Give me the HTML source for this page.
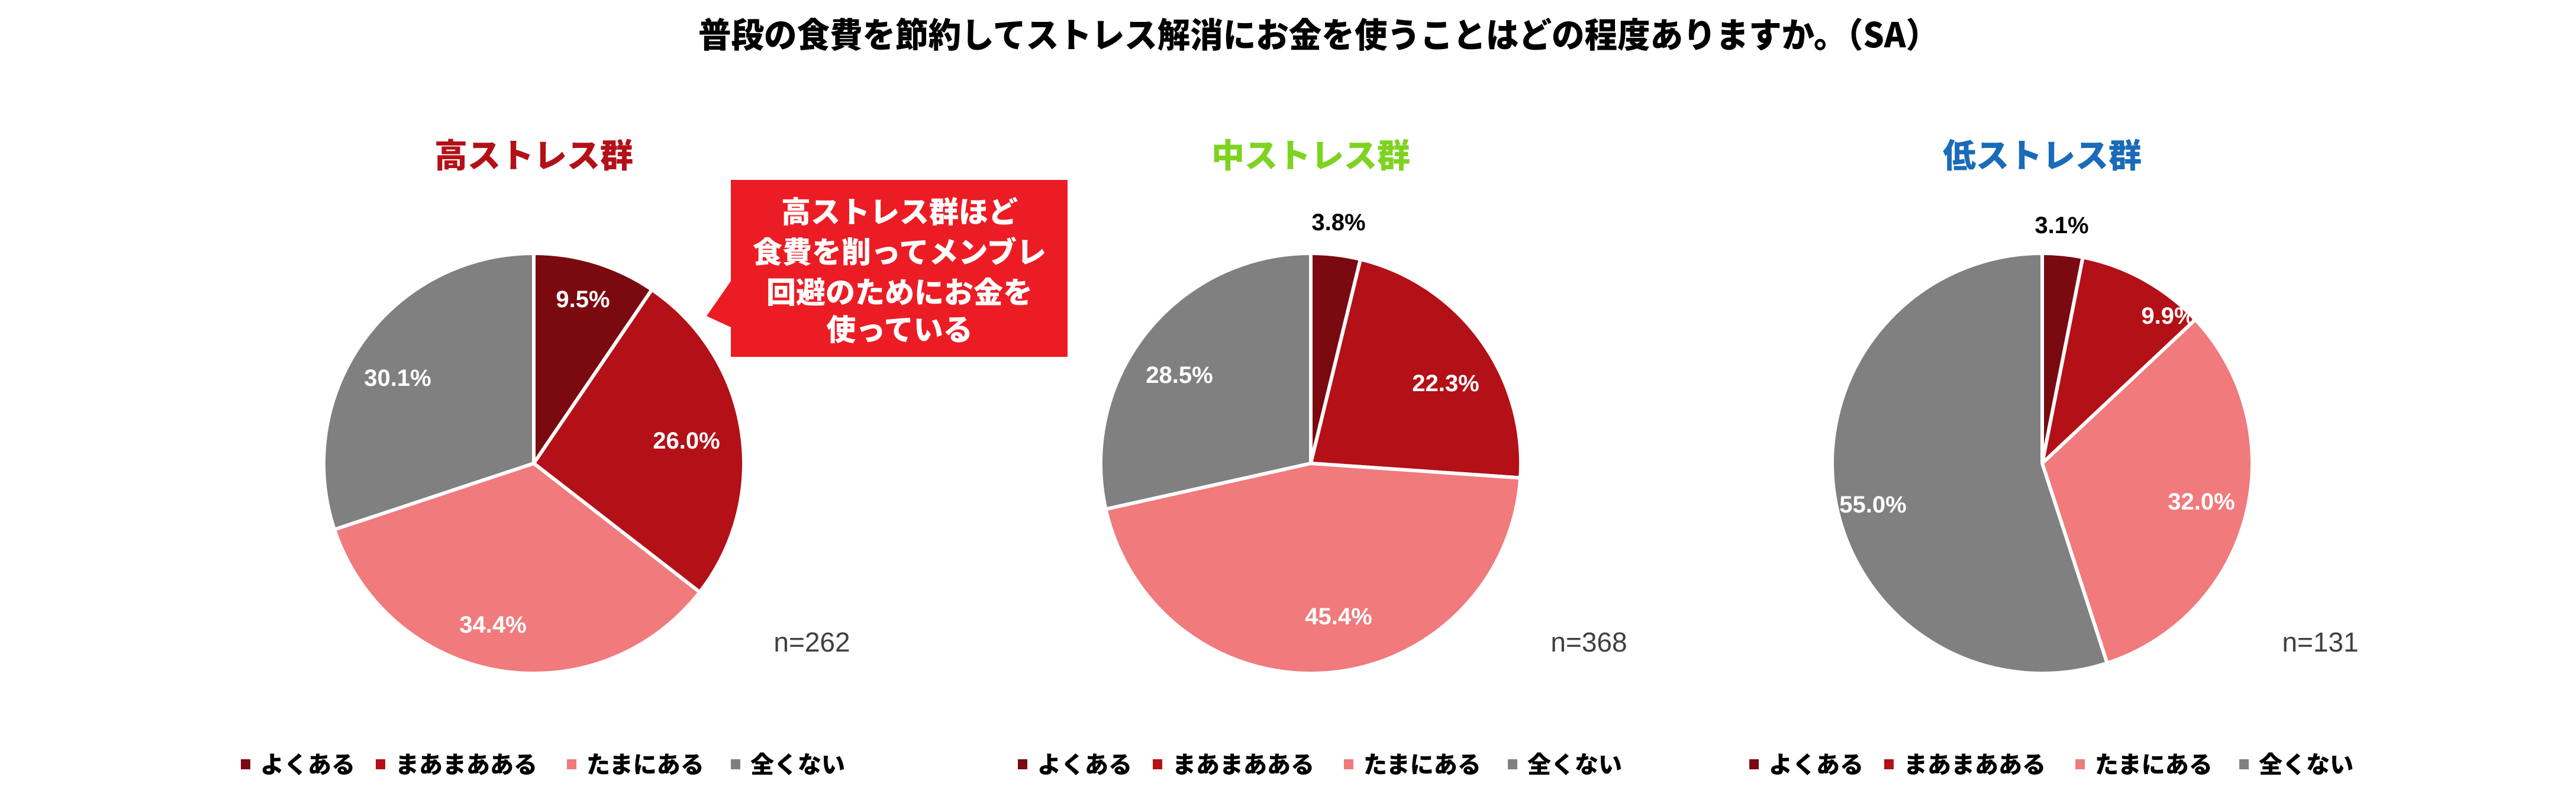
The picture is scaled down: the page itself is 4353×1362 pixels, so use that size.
<!DOCTYPE html>
<html><head><meta charset="utf-8"><style>
html,body{margin:0;padding:0;background:#fff;}
svg{display:block;}
text{font-family:"Liberation Sans","Noto Sans CJK JP",sans-serif;}
</style></head><body>
<svg id="s" width="4353" height="1362" viewBox="0 0 4353 1362" xmlns="http://www.w3.org/2000/svg">
<rect width="4353" height="1362" fill="#fff"/>
<text x="1180" y="80" textLength="2096" lengthAdjust="spacingAndGlyphs" font-size="58" font-weight="900" fill="#000" style="font-family:'Noto Sans CJK JP',sans-serif">普段の食費を節約してストレス解消にお金を使うことはどの程度ありますか。（SA）</text>
<g id="pies"></g>
<g style="font-family:'Noto Sans CJK JP',sans-serif" font-weight="900" font-size="56" text-anchor="middle">
<text x="902" y="283" fill="#b31017" style="font-family:'Noto Sans CJK JP',sans-serif">高ストレス群</text>
<text x="2215" y="283" fill="#7ed321" style="font-family:'Noto Sans CJK JP',sans-serif">中ストレス群</text>
<text x="3451" y="283" fill="#1a6bb8" style="font-family:'Noto Sans CJK JP',sans-serif">低ストレス群</text>
</g>
<polygon points="1235,304 1804,304 1804,603 1235,603 1235,553 1194,534 1235,475" fill="#ec1c24"/>
<g font-size="50" font-weight="900" fill="#fff" text-anchor="middle">
<text x="1520" y="376" style="font-family:'Noto Sans CJK JP',sans-serif">高ストレス群ほど</text>
<text x="1520" y="444" style="font-family:'Noto Sans CJK JP',sans-serif">食費を削ってメンブレ</text>
<text x="1520" y="512" style="font-family:'Noto Sans CJK JP',sans-serif">回避のためにお金を</text>
<text x="1520" y="575" style="font-family:'Noto Sans CJK JP',sans-serif">使っている</text>
</g>
<g font-size="40" font-weight="bold" fill="#fff" text-anchor="middle">
<text x="985" y="519">9.5%</text>
<text x="1160" y="758">26.0%</text>
<text x="833" y="1069">34.4%</text>
<text x="672" y="652">30.1%</text>
<text x="2262" y="389" fill="#000">3.8%</text>
<text x="2443" y="661">22.3%</text>
<text x="2262" y="1055">45.4%</text>
<text x="1993" y="647">28.5%</text>
<text x="3484" y="394" fill="#000">3.1%</text>
<text x="3664" y="547">9.9%</text>
<text x="3720" y="861">32.0%</text>
<text x="3165" y="866">55.0%</text>
</g>
<g font-size="46" fill="#404040" text-anchor="middle">
<text x="1372" y="1101">n=262</text>
<text x="2685" y="1101">n=368</text>
<text x="3921" y="1101">n=131</text>
</g>
<g id="legs"></g>
</svg>
<script>
var NS="http://www.w3.org/2000/svg";
var cols=["#7a0a10","#b31017","#f07a7c","#808080"];
var pies=[[902,[9.5,26.0,34.4,30.1]],[2215,[3.8,22.3,45.4,28.5]],[3451,[3.1,9.9,32.0,55.0]]];
var g=document.getElementById("pies"),cy=783,r=355;
pies.forEach(function(p){var cx=p[0],a=0,tot=p[1].reduce(function(x,y){return x+y},0);
p[1].forEach(function(v,i){var a0=a/tot*2*Math.PI;a+=v;var a1=a/tot*2*Math.PI;
var x0=cx+r*Math.sin(a0),y0=cy-r*Math.cos(a0),x1=cx+r*Math.sin(a1),y1=cy-r*Math.cos(a1);
var path=document.createElementNS(NS,"path");
path.setAttribute("d","M"+cx+","+cy+" L"+x0+","+y0+" A"+r+","+r+" 0 "+((a1-a0)>Math.PI?1:0)+" 1 "+x1+","+y1+" Z");
path.setAttribute("fill",cols[i]);path.setAttribute("stroke","#fff");path.setAttribute("stroke-width","6");path.setAttribute("stroke-linejoin","round");
g.appendChild(path);});});
var lg=document.getElementById("legs"),labs=["よくある","まあまあある","たまにある","全くない"],xs=[407,635,958,1235];
[0,1313,2549].forEach(function(off){xs.forEach(function(x,i){
var rc=document.createElementNS(NS,"rect");rc.setAttribute("x",x+off);rc.setAttribute("y",1283);rc.setAttribute("width",16);rc.setAttribute("height",17);rc.setAttribute("fill",cols[i]);lg.appendChild(rc);
var t=document.createElementNS(NS,"text");t.setAttribute("x",x+off+33);t.setAttribute("y",1306);t.setAttribute("font-size","40");t.setAttribute("font-weight","900");t.setAttribute("style","font-family:'Noto Sans CJK JP',sans-serif");t.textContent=labs[i];lg.appendChild(t);});});
</script>
</body></html>
